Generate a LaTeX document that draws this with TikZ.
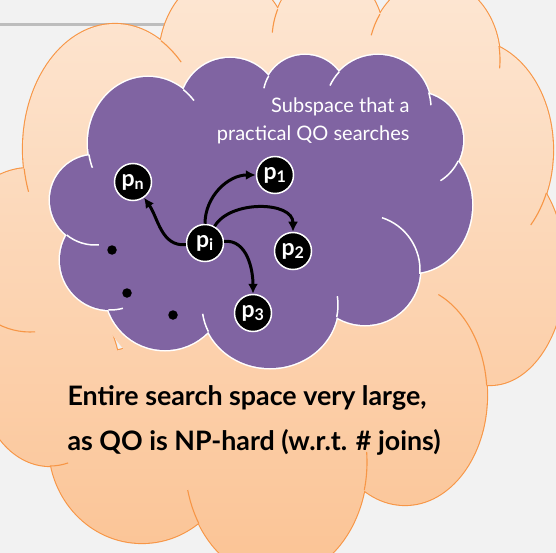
\documentclass[tikz,border=0pt]{standalone}
\usepackage{fontspec}
\setmainfont{Lato}
\usetikzlibrary{arrows.meta}

\definecolor{slidegray}{HTML}{F2F2F2}
\definecolor{rulegray}{HTML}{BDBDBD}
\definecolor{peachtop}{RGB}{253,231,212}
\definecolor{peachbot}{RGB}{251,195,148}
\definecolor{peachline}{HTML}{F79646}
\definecolor{qopurple}{HTML}{8064A2}

% lobes of the two clouds: centre x / centre y / x radius / y radius
\newcommand{\searchlobes}{115/149/92/125, 30/250/75/82, 50/376/70/90, 142/445/93/98,
  276/462/91/116, 405/395/82/110, 490/270/75/115, 470/150/83/110, 434/60/66/80,
  328/40/56/70, 225/60/66/85}
\newcommand{\subspacelobes}{148/143/60/66, 230/108/50/50, 305/97/42/42, 378/108/53/53,
  415/140/48/48, 412/205/60/68, 365/270/55/55, 270/305/68/63, 165/290/60/60,
  110/260/50/50, 95/200/45/45}
% inner arc ends: ... / start angle / end angle
\newcommand{\searchtails}{115/149/92/125/171/160, 115/149/92/125/-60/-44,
  30/250/75/82/120/86, 50/376/70/90/90/75, 276/462/91/116/148/166,
  276/462/91/116/14/-5, 405/395/82/110/-5/-66, 328/40/56/70/206/186,
  434/60/66/80/215/198, 434/60/66/80/-10/6, 470/150/83/110/23/43}
\newcommand{\subspacetails}{148/143/60/66/-54/-40, 148/143/60/66/170/158,
  305/97/42/42/-150/-168, 378/108/53/53/-137/-155, 378/108/53/53/-17/-3,
  415/140/48/48/26/58, 365/270/55/55/4/-72, 270/305/68/63/11/-8,
  270/305/68/63/155/172, 110/260/50/50/92/75, 95/200/45/45/129/85}

\tikzset{
  plan/.style={circle, fill=black, draw=white, line width=1.5pt, text=white,
    minimum size=37pt, inner sep=0pt, font=\fontsize{23}{23}\selectfont\bfseries},
  move/.style={line width=3pt, -{Latex[length=10pt,width=10pt]}},
  spot/.style={circle, fill=black, minimum size=9.5pt, inner sep=0pt},
}

\begin{document}
\begin{tikzpicture}[x=1pt, y=-1pt]
	\useasboundingbox (0,0) rectangle (556,553);
	\clip (0,0) rectangle (556,553);
	\fill[slidegray] (0,0) rectangle (556,553);
	\draw[rulegray, line width=3pt] (0,25) -- (200,25);

	% entire search space
	\foreach \cx/\cy/\rx/\ry in \searchlobes
		\draw[peachline, line width=2.2pt] (\cx,\cy) ellipse [x radius=\rx, y radius=\ry];
	\shade[top color=peachtop, bottom color=peachbot]
		(265,250) ellipse [x radius=180, y radius=160]
		\foreach \cx/\cy/\rx/\ry in \searchlobes { (\cx,\cy) ellipse [x radius=\rx, y radius=\ry] };
	\foreach \cx/\cy/\rx/\ry/\ta/\tb in \searchtails
		\draw[peachline, line width=1.1pt] (\cx,\cy) ++({\rx*cos(\ta)},{\ry*sin(\ta)})
			arc [start angle=\ta, end angle=\tb, x radius=\rx, y radius=\ry];

	% subspace
	\foreach \cx/\cy/\rx/\ry in \subspacelobes
		\draw[white, line width=3pt] (\cx,\cy) ellipse [x radius=\rx, y radius=\ry];
	\fill[qopurple]
		(265,210) ellipse [x radius=150, y radius=100]
		\foreach \cx/\cy/\rx/\ry in \subspacelobes { (\cx,\cy) ellipse [x radius=\rx, y radius=\ry] };
	\foreach \cx/\cy/\rx/\ry/\ta/\tb in \subspacetails
		\draw[white, line width=1.5pt] (\cx,\cy) ++({\rx*cos(\ta)},{\ry*sin(\ta)})
			arc [start angle=\ta, end angle=\tb, x radius=\rx, y radius=\ry];

	\node[text=white, align=right, anchor=east, font=\fontsize{20}{28}\selectfont]
		(subspace) at (413,121) {Subspace that a\\practical QO searches};

	\node[plan] (pi) at (205,243) {p\textsubscript{i}};
	\node[plan] (pn) at (133,182) {p\textsubscript{n}};
	\node[plan] (pone) at (275,175) {p\textsubscript{1}};
	\node[plan] (ptwo) at (293,251) {p\textsubscript{2}};
	\node[plan] (pthree) at (253,313) {p\textsubscript{3}};
	\node[spot] (dota) at (112,250) {};
	\node[spot] (dotb) at (127,293) {};
	\node[spot] (dotc) at (173,315) {};

	\draw[move] (pi) to[out=185, in=-55] (pn);
	\draw[move] (pi) to[out=90, in=180] (pone);
	\draw[move] (pi) to[out=60, in=90] (ptwo);
	\draw[move] (pi) to[out=5, in=90] (pthree);

	\node[align=left, anchor=west, font=\fontsize{26.8}{45}\selectfont\bfseries]
		(entire) at (64,420) {Entire search space very large,\\as QO is NP-hard (w.r.t. \# joins)};
\end{tikzpicture}
\end{document}
